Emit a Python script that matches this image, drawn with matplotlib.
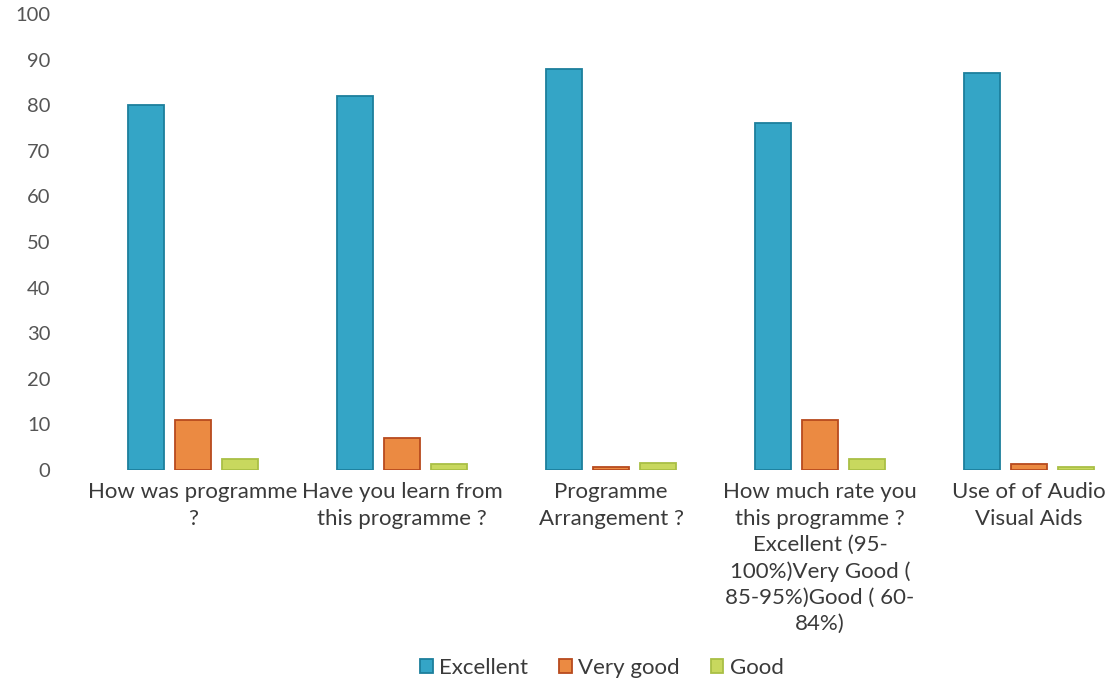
import numpy as np
import matplotlib.pyplot as plt

# =============================================================================
# DATOS
# =============================================================================

categories = [
    "How was programme\n?",
    "Have you learn from\nthis programme ?",
    "Programme\nArrangement ?",
    "How much rate you\nthis programme ?\nExcellent (95-\n100%)Very Good (\n85-95%)Good ( 60-\n84%)",
    "Use of of Audio\nVisual Aids",
]
excellent = [80, 82, 88, 76, 87]
very_good = [11, 7, 0.7, 11, 1.3]
good = [2.5, 1.3, 1.5, 2.4, 0.6]
series_names = ["Excellent", "Very good", "Good"]
y_ticks = list(range(0, 101, 10))

# =============================================================================
# ESTILO
# =============================================================================

FILL = ["#34a5c6", "#eb8a42", "#c8d85e"]
EDGE = ["#1c7f9c", "#b84a1e", "#a9bf45"]
plt.rcParams['font.family'] = ['Lato', 'DejaVu Sans']

W, H = 1109, 697
fig = plt.figure(figsize=(W / 100, H / 100), dpi=100)
ax = fig.add_axes([70 / W, (H - 470) / H, (W - 70) / W, 456 / H])

x = np.arange(len(categories))
bar_w = 0.172
offsets = [-0.225, 0.0, 0.225]
for vals, off, fc, ec, name in zip([excellent, very_good, good], offsets, FILL, EDGE, series_names):
    ax.bar(x + off, vals, width=bar_w, color=fc, edgecolor=ec, linewidth=1.3, label=name)

ax.set_ylim(0, 100)
ax.set_xlim(-0.589, 4.383)
ax.set_yticks(y_ticks)
ax.set_xticks(x)
ax.set_xticklabels(categories, fontsize=16, color="#3a3a3a", linespacing=1.38)
ax.tick_params(axis='y', length=0, pad=14, labelsize=14.5, labelcolor="#555555")
ax.tick_params(axis='x', length=0, pad=9)
for s in ax.spines.values():
    s.set_visible(False)

fig.legend(loc='center', bbox_to_anchor=(602 / W, 1 - 668 / H), ncol=3, frameon=False,
           fontsize=16, handlelength=0.55, handleheight=0.55, handletextpad=0.3,
           columnspacing=1.4, labelcolor="#3a3a3a")

fig.savefig("out.png", dpi=100, facecolor="white")
